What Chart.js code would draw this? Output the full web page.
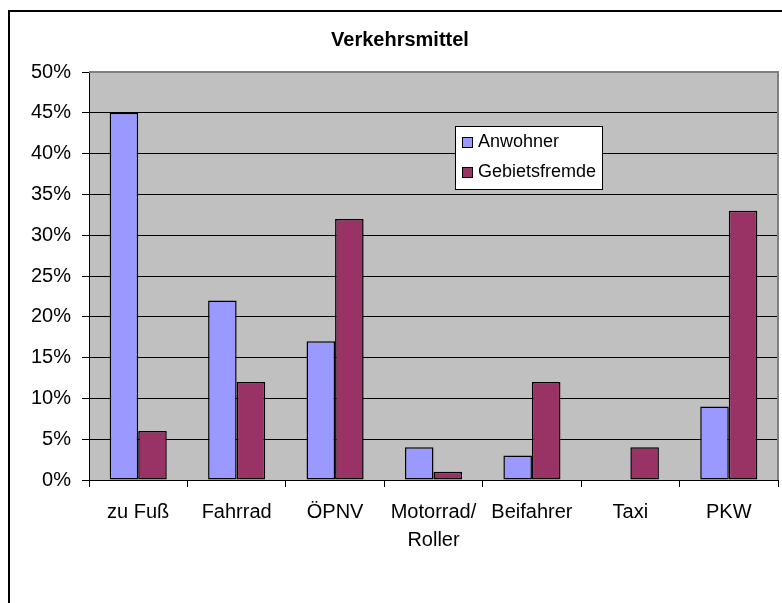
<!DOCTYPE html>
<html>
<head>
<meta charset="utf-8">
<script src="https://cdn.jsdelivr.net/npm/chart.js@4/dist/chart.umd.min.js"></script>
<style>
  body { margin: 0; background: #fff; overflow: hidden; }
  #rahmen { position: absolute; left: 8px; top: 10px; width: 800px; height: 700px;
            border-left: 2px solid #000; border-top: 2px solid #000; }
  #myChart { position: absolute; left: 0; top: 0; }
</style>
</head>
<body>
<div id="rahmen"></div>
<canvas id="myChart" width="782" height="603"></canvas>
<script>
// Daten
var kategorien = ["zu Fuß", "Fahrrad", "ÖPNV", ["Motorrad/", "Roller"], "Beifahrer", "Taxi", "PKW"];
var anwohner = [45, 22, 17, 4, 3, 0, 9];
var gebietsfremde = [6, 12, 32, 1, 12, 4, 33];
var yTicks = [0, 5, 10, 15, 20, 25, 30, 35, 40, 45, 50];

var schrift = '"Liberation Sans", Arial, sans-serif';

// grauer Hintergrund der Zeichenfläche + Rahmen oben/rechts
var flaeche = {
  id: 'flaeche',
  beforeDraw: function(chart) {
    var a = chart.chartArea, ctx = chart.ctx;
    ctx.save();
    ctx.fillStyle = '#C0C0C0';
    ctx.fillRect(a.left, a.top, a.right - a.left, a.bottom - a.top);
    ctx.restore();
  },
  afterDatasetsDraw: function(chart) {
    var a = chart.chartArea, ctx = chart.ctx;
    ctx.save();
    ctx.strokeStyle = '#808080';
    ctx.lineWidth = 2;
    ctx.beginPath();
    ctx.moveTo(a.left, a.top);
    ctx.lineTo(a.right, a.top);
    ctx.lineTo(a.right, a.bottom);
    ctx.stroke();
    ctx.restore();
  }
};

// Legende als Kasten innerhalb der Zeichenfläche
var legende = {
  id: 'legende',
  afterDraw: function(chart) {
    var a = chart.chartArea, ctx = chart.ctx;
    var x = a.left + 366, y = a.top + 54, w = 147, h = 63;
    ctx.save();
    ctx.fillStyle = '#fff';
    ctx.fillRect(x, y, w, h);
    ctx.strokeStyle = '#000';
    ctx.lineWidth = 1;
    ctx.strokeRect(x + 0.5, y + 0.5, w, h);
    ctx.font = '18px ' + schrift;
    ctx.textBaseline = 'middle';
    chart.data.datasets.forEach(function(ds, i) {
      var cy = y + 16 + i * 30;
      ctx.fillStyle = ds.backgroundColor;
      ctx.fillRect(x + 7, cy - 5, 10, 10);
      ctx.strokeStyle = '#000';
      ctx.strokeRect(x + 7.5, cy - 4.5, 10, 10);
      ctx.fillStyle = '#000';
      ctx.fillText(ds.label, x + 23, cy);
    });
    ctx.restore();
  }
};

var ctx = document.getElementById("myChart").getContext("2d");
var myChart = new Chart(ctx, {
  type: 'bar',
  data: {
    labels: kategorien,
    datasets: [
      { label: "Anwohner", data: anwohner, backgroundColor: "#9999FF", borderColor: "#000", borderWidth: 1.5, borderSkipped: false },
      { label: "Gebietsfremde", data: gebietsfremde, backgroundColor: "#993366", borderColor: "#000", borderWidth: 1.5, borderSkipped: false }
    ]
  },
  options: {
    responsive: false,
    animation: false,
    layout: { padding: { left: 22, right: 4, top: 0, bottom: 0 } },
    categoryPercentage: 0.58,
    barPercentage: 1.0,
    plugins: {
      legend: { display: false },
      tooltip: { enabled: false },
      title: {
        display: true,
        text: "Verkehrsmittel",
        color: '#000',
        font: { family: schrift, size: 20, weight: 'bold' },
        padding: { top: 28, bottom: 20 }
      }
    },
    scales: {
      x: {
        grid: { drawOnChartArea: false, drawTicks: true, tickLength: 7, tickColor: '#000' },
        border: { display: true, color: '#000', width: 1 },
        ticks: { color: '#000', font: { family: schrift, size: 20, lineHeight: 1.4 }, padding: 11, maxRotation: 0, autoSkip: false },
        afterFit: function(scale) { scale.height = 123; }
      },
      y: {
        min: 0,
        max: 50,
        afterBuildTicks: function(scale) {
          scale.ticks = yTicks.map(function(v) { return { value: v }; });
        },
        grid: {
          color: function(c) { return c.tick && c.tick.value === 50 ? '#808080' : '#000'; },
          tickColor: '#000',
          tickLength: 7
        },
        border: { display: true, color: '#000', width: 1 },
        ticks: {
          color: '#000',
          font: { family: schrift, size: 20 },
          padding: 11,
          callback: function(v) { return v + '%'; }
        },
        afterFit: function(scale) { scale.width = 67; }
      }
    }
  },
  plugins: [flaeche, legende]
});
</script>
</body>
</html>
